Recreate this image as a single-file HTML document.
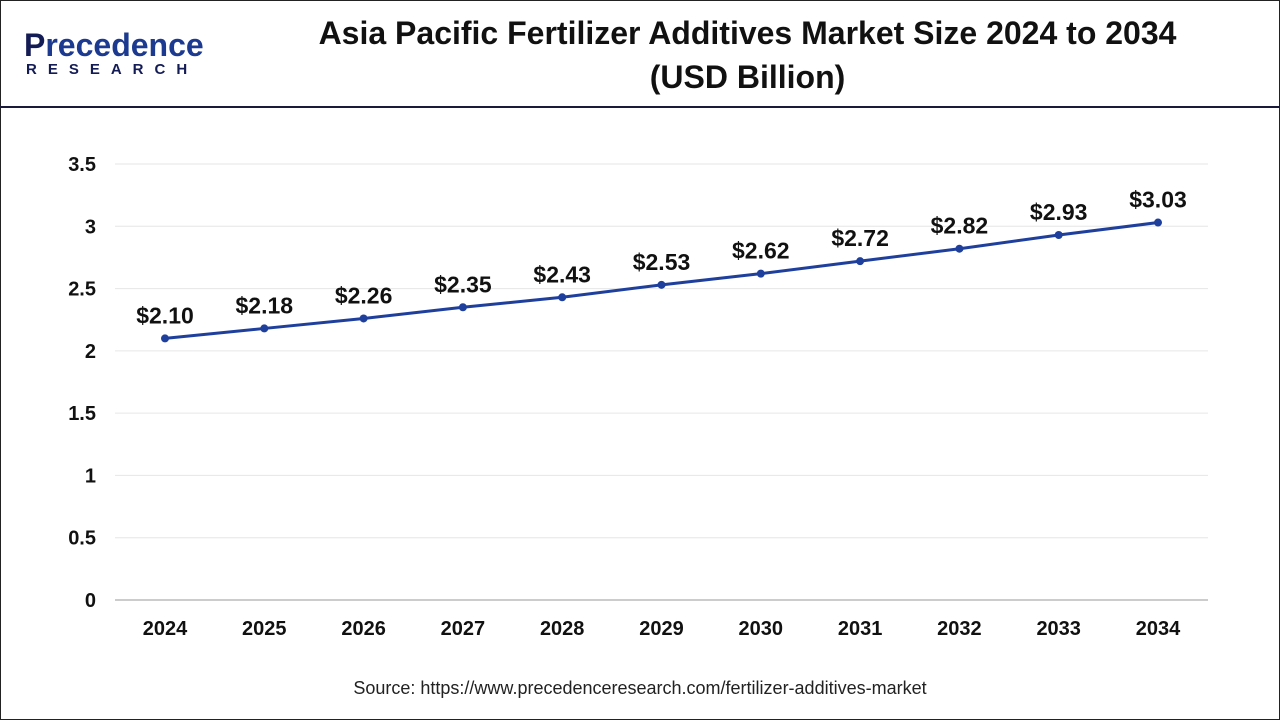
<!DOCTYPE html>
<html><head><meta charset="utf-8"><style>
body{margin:0;width:1280px;height:720px;background:#fff;font-family:"Liberation Sans",Arial,sans-serif;overflow:hidden}
#frame{position:absolute;left:0;top:0;width:1278px;height:718px;border:1px solid #222}
#hdr{position:absolute;left:0;top:106px;width:1280px;height:2px;background:#1a1a3a}
</style></head><body>
<div id="frame"></div>
<div id="hdr"></div>
<div style="position:absolute;left:24px;top:28px;width:200px;height:56px">
<div style="font-size:32px;font-weight:bold;color:#1c3a8f;line-height:34px"><span style="color:#141c55">P</span>recedence</div>
<div style="font-size:15px;font-weight:bold;color:#141c55;letter-spacing:11px;line-height:16px;margin-left:2px">RESEARCH</div>
</div>
<div style="position:absolute;left:240px;top:11px;width:1015px;text-align:center;font-size:32px;font-weight:bold;line-height:44px;color:#111">Asia Pacific Fertilizer Additives Market Size 2024 to 2034<br>(USD Billion)</div>
<svg id="chart" width="1280" height="720" style="position:absolute;left:0;top:0"></svg>
<div style="position:absolute;left:0;top:678px;width:1280px;text-align:center;font-size:18px;color:#222">Source: https://www.precedenceresearch.com/fertilizer-additives-market</div>
<script>
const years=["2024","2025","2026","2027","2028","2029","2030","2031","2032","2033","2034"];
const values=[2.10,2.18,2.26,2.35,2.43,2.53,2.62,2.72,2.82,2.93,3.03];
const labels=["$2.10","$2.18","$2.26","$2.35","$2.43","$2.53","$2.62","$2.72","$2.82","$2.93","$3.03"];
const yTicks=[0,0.5,1,1.5,2,2.5,3,3.5];
const NS="http://www.w3.org/2000/svg";
const svg=document.getElementById('chart');
const y=v=>600-v*(436/3.5);
const x=i=>165+i*99.3;
function mk(t,a){const e=document.createElementNS(NS,t);for(const k in a)e.setAttribute(k,a[k]);svg.appendChild(e);return e;}
yTicks.forEach(t=>{
  const g=mk('line',{x1:115,x2:1208,y1:y(t),y2:y(t),stroke:t===0?'#999':'#e6e6e6','stroke-width':1});
  
  
  const l=mk('text',{x:96,y:y(t)+7,'text-anchor':'end','font-size':20,'font-weight':'bold',fill:'#111','font-family':'Liberation Sans, Arial, sans-serif'});
  l.textContent=String(t);
  
  
});
years.forEach((yr,i)=>{
  const l=mk('text',{x:x(i),y:635,'text-anchor':'middle','font-size':20,'font-weight':'bold',fill:'#111','font-family':'Liberation Sans, Arial, sans-serif'});
  l.textContent=yr;
  
  
});
const line=mk('polyline',{points:values.map((v,i)=>x(i)+','+y(v)).join(' '),fill:'none',stroke:'#1f3f9c','stroke-width':3});


values.forEach((v,i)=>{
  const c=mk('circle',{cx:x(i),cy:y(v),r:4,fill:'#1f3f9c'});
  
  
  const t=mk('text',{x:x(i),y:y(v)-15,'text-anchor':'middle','font-size':23,'font-weight':'bold',fill:'#111','font-family':'Liberation Sans, Arial, sans-serif'});
  t.textContent=labels[i];
  
  
});
</script>
</body></html>
